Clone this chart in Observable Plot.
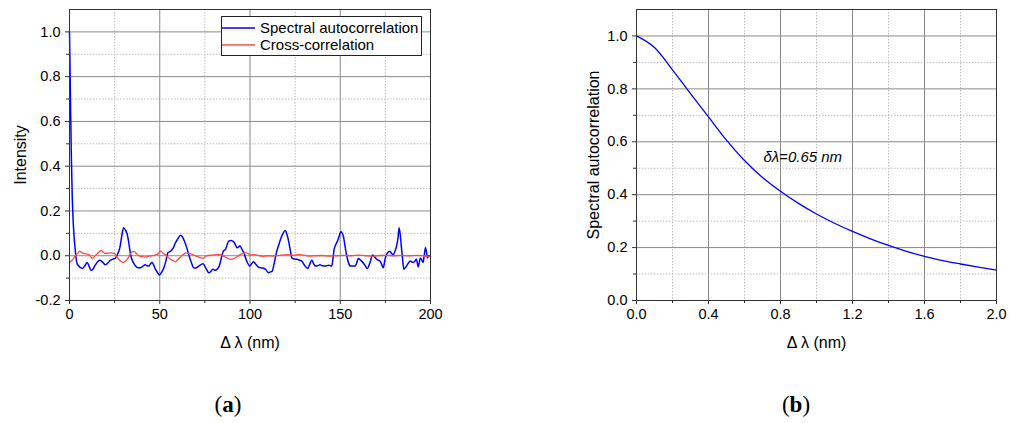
<!DOCTYPE html>
<html>
<head>
<meta charset="utf-8">
<script src="https://cdn.jsdelivr.net/npm/d3@7"></script>
<script src="https://cdn.jsdelivr.net/npm/@observablehq/plot@0.6"></script>
<style>
  html, body { margin: 0; padding: 0; background: #fff; }
  #wrap { position: relative; width: 1017px; height: 423px; overflow: hidden; font-family: "Liberation Sans", Arial, sans-serif; }
  .chart { position: absolute; top: 0; }
  .legend { position: absolute; border: 1px solid #222; background: #fff; box-sizing: border-box; font-size: 15px; color: #000; }
  .legend .row { position: absolute; left: 0; height: 17px; display: flex; align-items: center; white-space: nowrap; }
  .legend svg { display: block; margin-right: 5px; }
  .cap { position: absolute; top: 392px; font-family: "Liberation Serif", "DejaVu Serif", serif; font-size: 23px; color: #000; transform: translateX(-50%); }
  .cap b { font-weight: bold; }
</style>
</head>
<body>
<div id="wrap"></div>
<script>
// ---------- Data: panel (a) ----------
const autoX = [0,0.5,1,1.5,2,2.5,3,3.5,4.2,5,7,8.5,9.8,11,12,13,14.4,16.8,18.5,19.9,21,22.7,24,25.5,26.8,27.9,29,30,31,32,33,33.8,35,36.6,38,39.3,40.5,42,43,44,45,45.8,46.8,47.6,49,49.9,51,52.3,53.5,54.5,56,57.5,58.7,60,61.5,62.5,63.7,65,66,67.5,68.8,70,71.6,74,75.5,77.2,78.3,79.4,80.5,81.8,83,83.7,85.1,86.5,88.2,89.5,91,92.9,94.4,95.5,96.6,98,99.9,101,102,103,104.5,105.8,107,108.5,110.4,111.3,112.2,113.5,114.6,116,117.2,118.3,119.5,120.5,121.4,122.3,123.2,124.5,126,127.5,128.7,130,131.9,133,134.3,135.2,136.1,137.5,138.8,140,141.6,143.5,145.3,146,146.6,148.4,149.5,150.3,151.7,152.6,153.6,154.5,155.4,158.2,159,160,161.8,163.5,165,166.5,167.9,169,170.1,172,173,173.8,174.7,175.6,177.5,178.5,179.3,180.3,181.2,182,182.6,183.3,183.9,184.6,185.2,186.7,188,188.9,190.4,191.3,192.2,193.2,194.4,195.2,195.9,196.5,197.2,197.8,198.3,199,200];
const autoY = [1.0,0.72,0.45,0.27,0.16,0.09,0.04,0.0,-0.035,-0.045,-0.057,-0.045,-0.03,-0.05,-0.065,-0.06,-0.04,-0.02,-0.03,-0.04,-0.035,-0.02,-0.015,-0.01,0.01,0.036,0.09,0.125,0.115,0.095,0.05,0.006,-0.025,-0.046,-0.054,-0.054,-0.048,-0.04,-0.045,-0.046,-0.035,-0.03,-0.045,-0.06,-0.078,-0.086,-0.075,-0.054,-0.02,0.013,0.02,0.035,0.058,0.075,0.092,0.085,0.065,0.035,0.006,-0.03,-0.054,-0.055,-0.046,-0.036,-0.055,-0.076,-0.07,-0.06,-0.065,-0.06,-0.045,-0.024,0.018,0.03,0.065,0.068,0.062,0.036,0.043,0.03,0.013,-0.02,-0.046,-0.035,-0.027,-0.036,-0.05,-0.054,-0.055,-0.06,-0.076,-0.072,-0.07,-0.03,0.013,0.05,0.08,0.1,0.113,0.095,0.065,0.025,-0.01,-0.015,-0.016,-0.02,-0.024,-0.04,-0.057,-0.04,-0.02,-0.035,-0.046,-0.045,-0.04,-0.045,-0.046,-0.042,-0.046,-0.01,0.028,0.065,0.09,0.107,0.088,0.045,0.0,-0.03,-0.046,-0.046,-0.035,-0.012,-0.024,-0.04,-0.057,-0.03,0.003,-0.005,-0.016,-0.024,-0.04,-0.054,-0.02,0.006,0.02,0.01,0.003,0.02,0.043,0.08,0.125,0.09,0.036,-0.02,-0.06,-0.046,-0.03,-0.024,-0.03,-0.025,-0.016,-0.05,-0.01,-0.02,-0.03,0.0,0.036,0.015,-0.01,0.0,-0.003];
const crossX = [0,1.5,3.3,5,5.7,7,7.9,9.5,10.7,12.6,13.8,15,16.5,17.5,18.7,19.9,21.3,22.7,24,24.9,26,27.3,28.5,29.7,30.8,31.9,33,34.2,35,36,37,38.4,40,42,44,45.8,47,48.6,50.4,51.8,53.2,54.5,56,57.3,58.7,60,61.5,63,64.3,65.5,66.7,68.8,70.2,71.6,72.8,74,75,76.3,79,81.8,84,86.3,87.7,89.1,90.5,91.9,93.3,94.7,96,97.5,99,100.2,102,104.9,107,110,113,116,119,121,124,127,130,133,136,140,144,148,152,156,160,164,168,172,176,180,184,188,192,196,200];
const crossY = [-0.03,-0.02,0.0,0.015,0.02,0.013,0.01,0.008,0.006,-0.012,-0.004,0.006,0.018,0.024,0.015,0.01,0.012,0.013,0.012,0.01,-0.002,-0.016,-0.026,-0.03,-0.025,-0.016,-0.002,0.013,0.018,0.018,0.01,0.0,-0.004,-0.006,-0.002,0.0,0.003,0.006,0.02,0.012,0.003,-0.006,-0.016,-0.022,-0.027,-0.018,-0.006,0.005,0.013,0.012,0.01,0.003,-0.002,-0.006,-0.01,-0.012,-0.006,0.0,0.003,0.006,0.004,-0.006,-0.012,-0.016,-0.014,-0.009,-0.002,0.006,0.01,0.013,0.01,0.003,0.005,0.0,-0.003,0.0,-0.002,0.002,0.004,0.005,0.003,0.005,0.003,-0.002,0.0,0.001,-0.002,0.0,0.002,0.0,0.003,0.0,-0.002,0.001,0.002,0.0,0.002,-0.001,0.002,0.0,-0.003];
const seriesNames = ["Spectral autocorrelation", "Cross-correlation"];
const seriesColors = ["#0000ff", "#ff4a4a"];
const xTicksA = [0,50,100,150,200];
const xMinorA = [25,75,125,175];
const yTicksA = [-0.2,0,0.2,0.4,0.6,0.8,1.0];
const yMinorA = [-0.1,0.1,0.3,0.5,0.7,0.9];

// ---------- Data: panel (b) ----------
const dlX = [0,0.1,0.2,0.3,0.4,0.5,0.6,0.7,0.8,0.9,1.0,1.1,1.2,1.3,1.4,1.5,1.6,1.7,1.8,1.9,2.0];
const dlY = [1.0,0.956,0.872,0.782,0.694,0.606,0.529,0.465,0.413,0.367,0.327,0.292,0.261,0.233,0.208,0.186,0.167,0.151,0.138,0.126,0.115];
const xTicksB = [0,0.4,0.8,1.2,1.6,2.0];
const xMinorB = [0.2,0.6,1.0,1.4,1.8];
const yTicksB = [0,0.2,0.4,0.6,0.8,1.0];
const yMinorB = [0.1,0.3,0.5,0.7,0.9];
const noteB = [{x: 0.705, y: 0.54, text: "δλ=0.65 nm"}];

const xTitle = "Δ λ (nm)";
const yTitleA = "Intensity";
const yTitleB = "Spectral autocorrelation";
const captions = ["a", "b"];

// ---------- Build ----------
const autoData = autoX.map((x, i) => ({x, y: autoY[i]}));
const crossData = crossX.map((x, i) => ({x, y: crossY[i]}));
const fitData = dlX.map((x, i) => ({x, y: dlY[i]}));

const FONT = '"Liberation Sans", Arial, sans-serif';
const f1 = d => d.toFixed(1);
const majorGrid = {stroke: "#8a8a8a", strokeOpacity: 1, strokeWidth: 1};
const minorGrid = {stroke: "#bdbdbd", strokeOpacity: 1, strokeWidth: 1, strokeDasharray: "1.5,1.5"};

function panel({width, marginLeft, marginRight, xDomain, yDomain, xT, xM, yT, yM, xFmt, yTitle, yTitleOffset, lines, extra}) {
  return Plot.plot({
    width, height: 359,
    marginLeft, marginRight, marginTop: 9, marginBottom: 59,
    style: {fontFamily: FONT, fontSize: "14px", color: "#000", background: "transparent", overflow: "visible"},
    x: {domain: xDomain},
    y: {domain: yDomain},
    marks: [
      Plot.gridX(xM, minorGrid),
      Plot.gridY(yM, minorGrid),
      Plot.gridX(xT, majorGrid),
      Plot.gridY(yT, majorGrid),
      Plot.axisX(xT, {tickSize: 4, tickPadding: 4, tickFormat: xFmt, label: null, fontSize: 14.5, stroke: "#333"}),
      Plot.axisX(xM, {tickSize: 3, tickFormat: () => "", label: null, stroke: "#333"}),
      Plot.axisY(yT, {tickSize: 4, tickPadding: 5, tickFormat: f1, label: null, fontSize: 14.5, stroke: "#333"}),
      Plot.axisY(yM, {tickSize: 3, tickFormat: () => "", label: null, stroke: "#333"}),
      ...lines,
      ...(extra || []),
      Plot.frame({stroke: "#333", strokeWidth: 1}),
      Plot.text([yTitle], {frameAnchor: "left", dx: -yTitleOffset, rotate: -90, textAnchor: "middle", fontSize: 16, fill: "#000"}),
      Plot.text([xTitle], {frameAnchor: "bottom", dy: 42, lineAnchor: "middle", textAnchor: "middle", fontSize: 16, fill: "#000"})
    ]
  });
}

const left = panel({
  width: 460, marginLeft: 69, marginRight: 30,
  xDomain: [0, 200], yDomain: [-0.2, 1.1],
  xT: xTicksA, xM: xMinorA, yT: yTicksA, yM: yMinorA,
  xFmt: d => String(d), yTitle: yTitleA, yTitleOffset: 49,
  lines: [
    Plot.line(autoData, {x: "x", y: "y", stroke: seriesColors[0], strokeWidth: 1.5, curve: "monotone-x"}),
    Plot.line(crossData, {x: "x", y: "y", stroke: seriesColors[1], strokeWidth: 1.3, curve: "monotone-x"})
  ]
});

const right = panel({
  width: 457, marginLeft: 76, marginRight: 21,
  xDomain: [0, 2.0], yDomain: [0, 1.1],
  xT: xTicksB, xM: xMinorB, yT: yTicksB, yM: yMinorB,
  xFmt: f1, yTitle: yTitleB, yTitleOffset: 43,
  lines: [
    Plot.line(fitData, {x: "x", y: "y", stroke: seriesColors[0], strokeWidth: 1.3, curve: "monotone-x"})
  ],
  extra: [
    Plot.text(noteB, {x: "x", y: "y", text: "text", textAnchor: "start", fontSize: 15, fontStyle: "italic", fill: "#000"})
  ]
});

const wrap = document.getElementById("wrap");
left.classList.add("chart"); left.style.left = "0px";
right.classList.add("chart"); right.style.left = "560px";
wrap.appendChild(left);
wrap.appendChild(right);

// Legend (HTML, top-right of panel a)
const lg = document.createElement("div");
lg.className = "legend";
Object.assign(lg.style, {left: "221px", top: "16px", width: "201px", height: "40px"});
seriesNames.forEach((name, i) => {
  const row = document.createElement("div");
  row.className = "row";
  row.style.top = (2 + i * 17) + "px";
  const sw = document.createElementNS("http://www.w3.org/2000/svg", "svg");
  sw.setAttribute("width", "33");
  sw.setAttribute("height", "6");
  const ln = document.createElementNS("http://www.w3.org/2000/svg", "line");
  ln.setAttribute("x1", "0"); ln.setAttribute("x2", "33");
  ln.setAttribute("y1", "3"); ln.setAttribute("y2", "3");
  ln.setAttribute("stroke", seriesColors[i]);
  ln.setAttribute("stroke-width", "1.5");
  sw.appendChild(ln);
  const tx = document.createElement("span");
  tx.textContent = name;
  row.appendChild(sw); row.appendChild(tx);
  lg.appendChild(row);
});
wrap.appendChild(lg);

// Captions
const capX = [228, 796];
captions.forEach((c, i) => {
  const d = document.createElement("div");
  d.className = "cap";
  d.style.left = capX[i] + "px";
  d.innerHTML = "(<b>" + c + "</b>)";
  wrap.appendChild(d);
});
</script>
</body>
</html>
